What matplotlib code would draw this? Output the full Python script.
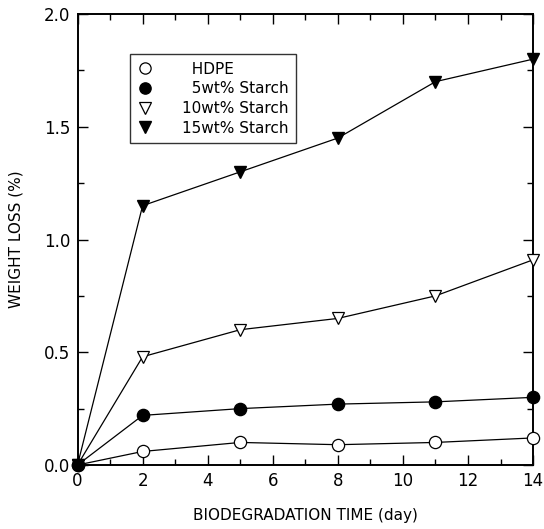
import matplotlib
matplotlib.use("Agg")
import matplotlib.pyplot as plt
from matplotlib.ticker import MultipleLocator

# biodegradation data
days = [0, 2, 5, 8, 11, 14]
hdpe = [0.0, 0.06, 0.10, 0.09, 0.10, 0.12]
starch5 = [0.0, 0.22, 0.25, 0.27, 0.28, 0.30]
starch10 = [0.0, 0.48, 0.60, 0.65, 0.75, 0.91]
starch15 = [0.0, 1.15, 1.30, 1.45, 1.70, 1.80]

labels = ["\u2007HDPE", "\u20075wt% Starch", "10wt% Starch", "15wt% Starch"]

plt.rcParams['font.family'] = 'DejaVu Sans'

fig = plt.figure(figsize=(5.44, 5.29), dpi=100)
ax = fig.add_axes([0.1425, 0.121, 0.8375, 0.8525])

ms = 8.8
ax.plot(days, hdpe, color='black', lw=0.9, marker='o', ms=ms,
        mfc='white', mec='black', mew=0.9, label=labels[0], clip_on=False, zorder=3)
ax.plot(days, starch10, color='black', lw=0.9, marker='v', ms=ms,
        mfc='white', mec='black', mew=0.9, label=labels[2], clip_on=False, zorder=3)
ax.plot(days, starch15, color='black', lw=0.9, marker='v', ms=ms,
        mfc='black', mec='black', label=labels[3], clip_on=False, zorder=3)
ax.plot(days, starch5, color='black', lw=0.9, marker='o', ms=ms,
        mfc='black', mec='black', label=labels[1], clip_on=False, zorder=4)

ax.set_xlim(0, 14)
ax.set_ylim(0, 2.0)
ax.xaxis.set_major_locator(MultipleLocator(2))
ax.xaxis.set_minor_locator(MultipleLocator(1))
ax.yaxis.set_major_locator(MultipleLocator(0.5))
ax.yaxis.set_minor_locator(MultipleLocator(0.25))
ax.yaxis.set_major_formatter(matplotlib.ticker.FormatStrFormatter('%.1f'))

ax.tick_params(which='both', direction='in', top=True, right=True,
               labelsize=12, width=1.0)
ax.tick_params(which='major', length=7, pad=5)
ax.tick_params(which='minor', length=4)
for s in ax.spines.values():
    s.set_linewidth(1.4)

ax.set_xlabel('BIODEGRADATION TIME (day)', fontsize=11, labelpad=13)
ax.set_ylabel('WEIGHT LOSS (%)', fontsize=11, labelpad=15)

# legend entries in the same order as the key
handles, labs = ax.get_legend_handles_labels()
order = [labs.index(l) for l in labels]
leg = ax.legend([handles[i] for i in order], [labs[i] for i in order],
                loc='upper left', bbox_to_anchor=(0.115, 0.911),
                borderaxespad=0, fancybox=False, edgecolor='black',
                fontsize=11, handlelength=1.0, handletextpad=1.9,
                labelspacing=0.3, borderpad=0.5, markerscale=0.92)
for h in leg.legend_handles:
    h.set_linestyle('none')
leg.get_frame().set_linewidth(1.0)

fig.savefig('out.png', dpi=100)
